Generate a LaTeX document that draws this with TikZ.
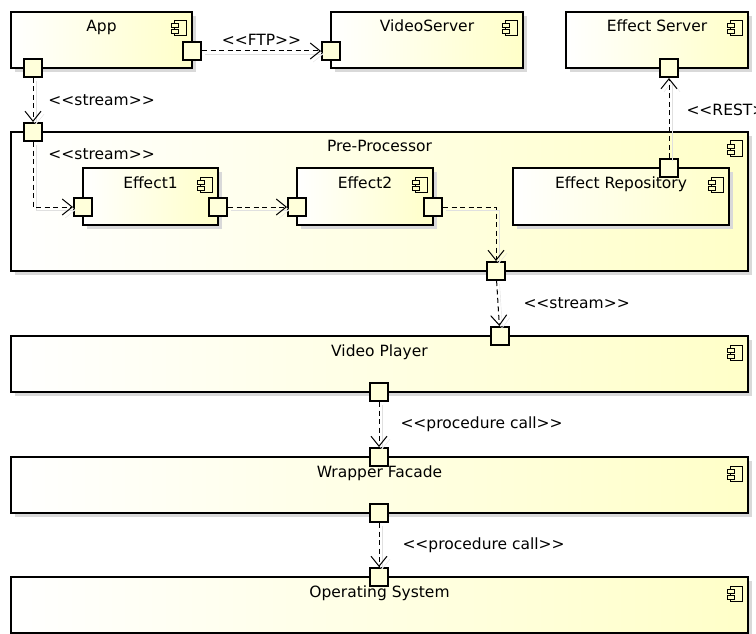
\documentclass[tikz,border=0pt]{standalone}
\usepackage{fontspec}
\setmainfont{DejaVu Sans}
\usepackage{tikz}
\usetikzlibrary{arrows.meta, shadows}

\definecolor{compyellow}{RGB}{255,255,200}
\definecolor{portyellow}{RGB}{255,255,218}

\newcommand\stereo[1]{<{}<#1>{}>}
\newcommand\compicon[1]{%
  \begin{scope}[shift={(#1.north east)}, line width=1pt]
    \draw (-19,10) rectangle (-7,25);
    \draw[fill=compyellow] (-22,13) rectangle (-15,17);
    \draw[fill=compyellow] (-22,19) rectangle (-15,23);
  \end{scope}}

\tikzset{
  comp/.style={draw, line width=2pt, inner sep=0pt, left color=white, right color=compyellow,
    drop shadow={shadow xshift=4pt, shadow yshift=-4pt, fill=black!15, opacity=1}},
  port/.style={draw, line width=2pt, fill=portyellow, minimum size=18pt, inner sep=0pt},
  conn/.style={line width=1pt, dash pattern=on 5pt off 3.5pt,
    -{Straight Barb[length=10pt, width=16pt, line width=1pt]},
    preaction={draw=black!12, solid, transform canvas={xshift=3pt, yshift=-3pt}}},
  stereotype/.style={inner sep=0pt}
}

\begin{document}
\begin{tikzpicture}[x=1pt, y=-1pt, font=\fontsize{15.5}{18}\selectfont]
  \useasboundingbox (0,0) rectangle (756,634);

  % Draw the components
  \node[comp, minimum width=181pt, minimum height=56pt, label={[anchor=base, yshift=-21pt]north:App}] (app) at (101.5,40) {};
  \node[comp, minimum width=192pt, minimum height=56pt, label={[anchor=base, yshift=-21pt]north:VideoServer}] (vs) at (427,40) {};
  \node[comp, minimum width=182pt, minimum height=56pt, label={[anchor=base, yshift=-21pt]north:Effect Server}] (es) at (657,40) {};
  \node[comp, minimum width=737pt, minimum height=139pt, label={[anchor=base, yshift=-21pt]north:Pre-Processor}] (pp) at (379.5,201.5) {};
  \node[comp, minimum width=135pt, minimum height=57pt, label={[anchor=base, yshift=-21pt]north:Effect1}] (e1) at (150.5,196.5) {};
  \node[comp, minimum width=136pt, minimum height=57pt, label={[anchor=base, yshift=-21pt]north:Effect2}] (e2) at (365,196.5) {};
  \node[comp, minimum width=216pt, minimum height=57pt, label={[anchor=base, yshift=-21pt]north:Effect Repository}] (repo) at (621,196.5) {};
  \node[comp, minimum width=737pt, minimum height=56pt, label={[anchor=base, yshift=-21pt]north:Video Player}] (vp) at (379.5,364) {};
  \node[comp, minimum width=737pt, minimum height=56pt, label={[anchor=base, yshift=-21pt]north:Wrapper Facade}] (wf) at (379.5,485) {};
  \node[comp, minimum width=737pt, minimum height=56pt, label={[anchor=base, yshift=-21pt]north:Operating System}] (os) at (379.5,605) {};

  % Component icons
  \foreach \c in {app, vs, es, pp, e1, e2, repo, vp, wf, os}
    \compicon{\c};

  % Ports
  \node[port] (app-e) at (192,51) {};
  \node[port] (app-s) at (33,68) {};
  \node[port] (vs-w) at (331,51) {};
  \node[port] (es-s) at (669,68) {};
  \node[port] (pp-n) at (33,132) {};
  \node[port] (pp-s) at (496,271) {};
  \node[port] (e1-w) at (83,207) {};
  \node[port] (e1-e) at (218,207) {};
  \node[port] (e2-w) at (297,207) {};
  \node[port] (e2-e) at (433,207) {};
  \node[port] (repo-n) at (669,168) {};
  \node[port] (vp-n) at (500,336) {};
  \node[port] (vp-s) at (379,392) {};
  \node[port] (wf-n) at (379,457) {};
  \node[port] (wf-s) at (379,513) {};
  \node[port] (os-n) at (379,577) {};

  % Dependencies between the ports
  \draw[conn] (app-e) -- node[stereotype, above=5pt] {\stereo{FTP}} (vs-w);
  \draw[conn] (app-s) -- node[stereotype, right=15pt] {\stereo{stream}} (pp-n);
  \draw[conn] (pp-n) |- node[stereotype, pos=0.09, right=15pt] {\stereo{stream}} (e1-w);
  \draw[conn] (e1-e) -- (e2-w);
  \draw[conn] (e2-e) -| (pp-s);
  \draw[conn] (repo-n) -- node[stereotype, pos=0.6, right=17pt] {\stereo{REST}} (es-s);
  \draw[conn] (pp-s) -- node[stereotype, right=25pt] {\stereo{stream}} (vp-n);
  \draw[conn] (vp-s) -- node[stereotype, right=21pt] {\stereo{procedure call}} (wf-n);
  \draw[conn] (wf-s) -- node[stereotype, right=23pt] {\stereo{procedure call}} (os-n);

\end{tikzpicture}
\end{document}
